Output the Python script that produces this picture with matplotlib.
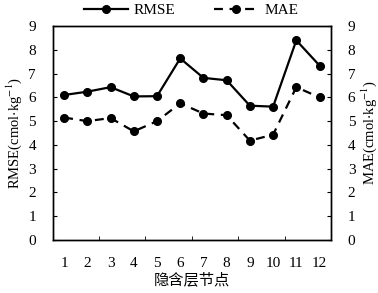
import matplotlib
matplotlib.use("Agg")
import matplotlib.pyplot as plt

plt.rcParams['font.family'] = ['Liberation Serif', 'Noto Sans CJK SC']
plt.rcParams['mathtext.fontset'] = 'stix'

nodes = [1, 2, 3, 4, 5, 6, 7, 8, 9, 10, 11, 12]
rmse = [6.10, 6.24, 6.43, 6.04, 6.05, 7.64, 6.82, 6.72, 5.65, 5.61, 8.40, 7.34]
mae = [5.15, 5.00, 5.13, 4.57, 5.00, 5.75, 5.32, 5.25, 4.18, 4.43, 6.43, 6.00]

fig = plt.figure(figsize=(3.78, 2.93), dpi=100)
ax = fig.add_axes([0.139, 0.181, 0.737, 0.730])
ax2 = ax.twinx()

l1, = ax.plot(nodes, rmse, '-o', color='black', lw=1.6, ms=5.5, label='RMSE')
l2, = ax2.plot(nodes, mae, '--o', color='black', lw=1.6, ms=5.5, dashes=(4, 3), label='MAE')

for a in (ax, ax2):
    a.set_ylim(0, 9)
    a.set_yticks(range(0, 10))
    a.set_xlim(0.5, 12.5)
    for s in a.spines.values():
        s.set_linewidth(1.0)
    a.tick_params(axis='y', direction='in', length=3, labelsize=11, pad=12)

ax.set_xticks(nodes)
ax.set_xticks([2.5, 4.5, 6.5, 8.5, 10.5], minor=True)
ax.tick_params(axis='x', which='major', length=0, labelsize=11, pad=12)
ax.tick_params(axis='x', which='minor', direction='in', length=3)

ax.set_ylabel(r'RMSE(cmol$\cdot$kg$^{-1}$)', fontsize=10.5, labelpad=3)
ax2.set_ylabel(r'MAE(cmol$\cdot$kg$^{-1}$)', fontsize=10.5, labelpad=3)
ax.set_xlabel('隐含层节点', fontsize=11, family=['Noto Sans CJK SC'], labelpad=1)

fig.legend(handles=[l1, l2], loc='upper center', bbox_to_anchor=(0.505, 1.035),
           ncol=2, frameon=False, fontsize=11, handlelength=2.9, handletextpad=0.4,
           columnspacing=2.5)

fig.savefig('out.png', dpi=100)
